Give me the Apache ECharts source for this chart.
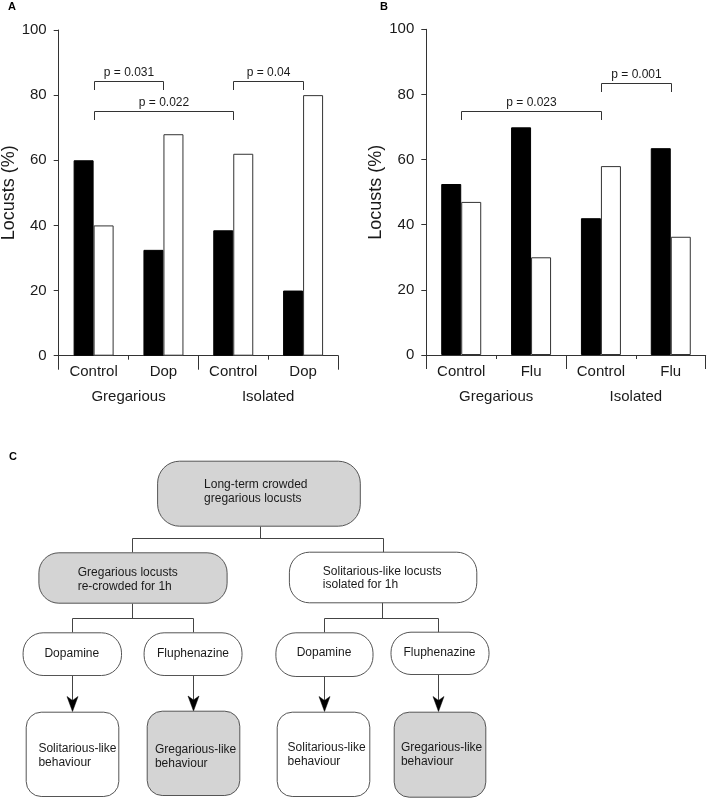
<!DOCTYPE html>
<html>
<head>
<meta charset="utf-8">
<style>html,body{margin:0;padding:0;background:#fff;}#main{width:708px;height:799px;}</style>
<script src="https://cdn.jsdelivr.net/npm/echarts@6/dist/echarts.min.js"></script>
</head>
<body>
<div id="main"></div>
<script>
// ---- data ----
const catsA = ['Control', 'Dop', 'Control', 'Dop'];
const catsB = ['Control', 'Flu', 'Control', 'Flu'];
const groups = ['Gregarious', 'Isolated'];
const blackA = [60, 32.5, 38.5, 20];
const whiteA = [40, 68, 62, 80];
const blackB = [52.5, 69.9, 42, 63.5];
const whiteB = [47, 30, 58, 36.3];
const yTicks = [0, 20, 40, 60, 80, 100];
// brackets: [fromCategory, toCategory, level (%), label]
const bracketsA = [[0, 1, 84.4, 'p = 0.031'], [0, 2, 75.2, 'p = 0.022'], [2, 3, 84.4, 'p = 0.04']];
const bracketsB = [[0, 2, 75.0, 'p = 0.023'], [2, 3, 83.6, 'p = 0.001']];
// flowchart texts
const flowTop = 'Long-term crowded\ngregarious locusts';
const flowMid = ['Gregarious locusts\nre-crowded for 1h', 'Solitarious-like locusts\nisolated for 1h'];
const flowDrug = ['Dopamine', 'Fluphenazine', 'Dopamine', 'Fluphenazine'];
const flowOut = ['Solitarious-like\nbehaviour', 'Gregarious-like\nbehaviour', 'Solitarious-like\nbehaviour', 'Gregarious-like\nbehaviour'];

const FONT = 'Liberation Sans, Arial, sans-serif';
const TXT = '#1a1a1a';
const LINE = '#333';

const chart = echarts.init(document.getElementById('main'), null, {renderer: 'canvas'});

function xCat(grid, data) {
  return {
    type: 'category', gridIndex: grid, data: data, position: 'bottom',
    axisLine: {show: true, lineStyle: {color: LINE, width: 1}},
    axisTick: {show: true, length: 4, alignWithLabel: false, lineStyle: {color: LINE}},
    axisLabel: {color: TXT, fontSize: 15, fontFamily: FONT, margin: 9, interval: 0}
  };
}
function xGroup(grid) {
  return {
    type: 'category', gridIndex: grid, data: groups, position: 'bottom',
    axisLine: {show: false},
    axisTick: {show: true, length: 14, lineStyle: {color: LINE}},
    axisLabel: {color: TXT, fontSize: 15, fontFamily: FONT, margin: 34, interval: 0}
  };
}
function yAx(grid) {
  return {
    type: 'value', gridIndex: grid, min: 0, max: 100, interval: 20,
    name: 'Locusts (%)', nameLocation: 'middle', nameGap: 39, nameRotate: 90,
    nameTextStyle: {color: TXT, fontSize: 18, fontFamily: FONT},
    axisLine: {show: true, lineStyle: {color: LINE, width: 1}},
    axisTick: {show: true, length: 5, lineStyle: {color: LINE}},
    axisLabel: {color: TXT, fontSize: 15, fontFamily: FONT, margin: 12,
      formatter: v => (yTicks.indexOf(v) >= 0 ? String(v) : '')},
    splitLine: {show: false}
  };
}
function bars(xi, yi, data, fill) {
  return {
    type: 'bar', xAxisIndex: xi, yAxisIndex: yi, data: data, barWidth: 20, barGap: '0%',
    itemStyle: {color: fill, borderColor: fill === '#000' ? '#000' : LINE, borderWidth: 1},
    silent: true, animation: false
  };
}
function bracketSeries(xi, yi, data) {
  return {
    type: 'custom', xAxisIndex: xi, yAxisIndex: yi, data: data, clip: false, silent: true,
    encode: {x: [0, 1], y: 2},
    renderItem: function (params, api) {
      const p1 = api.coord([api.value(0), api.value(2)]);
      const p2 = api.coord([api.value(1), api.value(2)]);
      const y = Math.round(p1[1]) + 0.5;
      const x1 = Math.round(p1[0]) + 0.5, x2 = Math.round(p2[0]) + 0.5;
      const label = data[params.dataIndex][3];
      return {
        type: 'group',
        children: [
          {type: 'polyline', shape: {points: [[x1, y + 8.5], [x1, y], [x2, y], [x2, y + 8.5]]},
            style: {stroke: LINE, lineWidth: 1, fill: null}},
          {type: 'text', x: (x1 + x2) / 2, y: y - 9,
            style: {text: label, fill: TXT, font: '12px ' + FONT, align: 'center', verticalAlign: 'middle'}}
        ]
      };
    }
  };
}

// ---- flowchart layout ----
const G = [];
const BOX_FILL_GRAY = '#d4d4d4';
const BOX_STROKE = '#555';
function box(x1, y1, x2, y2, r, fill) {
  G.push({type: 'rect', shape: {x: x1 + 0.5, y: y1 + 0.5, width: x2 - x1, height: y2 - y1, r: r},
    style: {fill: fill, stroke: BOX_STROKE, lineWidth: 1}});
}
function txt(x, y, t, align) {
  G.push({type: 'text', x: x, y: y,
    style: {text: t, fill: TXT, font: '12px ' + FONT, align: align || 'left', verticalAlign: 'middle', lineHeight: 13.5}});
}
function ln(points) {
  G.push({type: 'polyline', shape: {points: points.map(p => [Math.round(p[0]) + 0.5, Math.round(p[1]) + 0.5])},
    style: {stroke: '#444', lineWidth: 1, fill: null}});
}
function arrow(x, y1, y2) {
  ln([[x, y1], [x, y2 - 10]]);
  const xx = Math.round(x) + 0.5;
  G.push({type: 'polygon', shape: {points: [[xx - 5.5, y2 - 15], [xx, y2], [xx + 5.5, y2 - 15], [xx, y2 - 11]]},
    style: {fill: '#000', stroke: '#000', lineWidth: 0.5}});
}

// panel letters
G.push({type: 'text', x: 8, y: 7, style: {text: 'A', fill: '#000', font: 'bold 11px ' + FONT, verticalAlign: 'middle'}});
G.push({type: 'text', x: 380, y: 7, style: {text: 'B', fill: '#000', font: 'bold 11px ' + FONT, verticalAlign: 'middle'}});
G.push({type: 'text', x: 9, y: 457, style: {text: 'C', fill: '#000', font: 'bold 11px ' + FONT, verticalAlign: 'middle'}});

// connectors
ln([[259.6, 525.7], [259.6, 538.3]]);
ln([[132.3, 552.3], [132.3, 538.3], [382.8, 538.3], [382.8, 552.3]]);
ln([[132.3, 602.7], [132.3, 618.3]]);
ln([[72.2, 632.3], [72.2, 618.3], [192.8, 618.3], [192.8, 632.3]]);
ln([[382.4, 602.3], [382.4, 617.5]]);
ln([[323.7, 632.3], [323.7, 617.5], [437.9, 617.5], [437.9, 632.3]]);
arrow(72.2, 675, 711.5);
arrow(193.2, 675, 711);
arrow(323.7, 676, 711.5);
arrow(437.9, 674, 711.5);

// boxes
box(157.1, 460.7, 359.8, 525.7, 22, BOX_FILL_GRAY);
txt(204.1, 491.5, flowTop);
box(38.4, 552.3, 226.6, 602.7, 20, BOX_FILL_GRAY);
txt(77.7, 579.5, flowMid[0]);
box(288.9, 551.7, 476.3, 602.3, 20, '#fff');
txt(322.8, 578, flowMid[1]);

box(22.6, 632.3, 121, 675, 20, '#fff');
txt(71.8, 653.5, flowDrug[0], 'center');
box(143.6, 632.3, 241.5, 675, 20, '#fff');
txt(193, 653.5, flowDrug[1], 'center');
box(275.4, 632.3, 372.5, 676, 20, '#fff');
txt(324, 653, flowDrug[2], 'center');
box(390.5, 631.7, 488.5, 674, 20, '#fff');
txt(439.5, 652.5, flowDrug[3], 'center');

box(25.7, 711.7, 118.3, 796, 15, '#fff');
txt(38.4, 755.7, flowOut[0]);
box(146.7, 710.7, 239.3, 795, 15, BOX_FILL_GRAY);
txt(154.9, 756.7, flowOut[1]);
box(276.7, 711.7, 369.3, 796, 15, '#fff');
txt(287.6, 754.5, flowOut[2]);
box(393.7, 711.7, 485.3, 796.7, 15, BOX_FILL_GRAY);
txt(400.9, 754.5, flowOut[3]);

const option = {
  animation: false,
  backgroundColor: '#fff',
  textStyle: {fontFamily: FONT},
  grid: [
    {left: 58.7, right: 708 - 338, top: 30, bottom: 799 - 355.7, outerBoundsMode: 'none', containLabel: false},
    {left: 426.3, right: 708 - 705.7, top: 29.3, bottom: 799 - 355, outerBoundsMode: 'none', containLabel: false}
  ],
  xAxis: [xCat(0, catsA), xGroup(0), xCat(1, catsB), xGroup(1)],
  yAxis: [yAx(0), yAx(1)],
  series: [
    bars(0, 0, blackA, '#000'), bars(0, 0, whiteA, '#fff'),
    bars(2, 1, blackB, '#000'), bars(2, 1, whiteB, '#fff'),
    bracketSeries(0, 0, bracketsA), bracketSeries(2, 1, bracketsB)
  ],
  graphic: G
};
chart.setOption(option);
</script>
</body>
</html>
